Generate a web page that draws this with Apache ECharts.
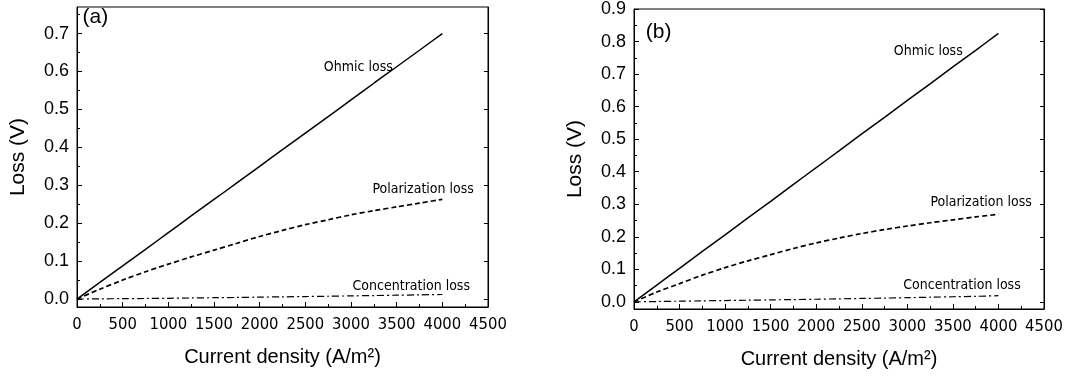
<!DOCTYPE html>
<html>
<head>
<meta charset="utf-8">
<script src="https://cdn.jsdelivr.net/npm/echarts@6/dist/echarts.min.js"></script>
<style>
html,body{margin:0;padding:0;background:#fff;}
#chart{width:1067px;height:376px;}
</style>
</head>
<body>
<div id="chart"></div>
<script>
// ---- data ----
const currentDensity = [0, 250, 500, 750, 1000, 1250, 1500, 1750, 2000, 2250, 2500, 2750, 3000, 3250, 3500, 3750, 4000];
const ohmicA = [0, 0.044, 0.0875, 0.131, 0.175, 0.219, 0.2625, 0.306, 0.35, 0.394, 0.4375, 0.481, 0.525, 0.569, 0.6125, 0.656, 0.70];
const polarA = [0, 0.026, 0.05, 0.072, 0.092, 0.111, 0.129, 0.147, 0.165, 0.181, 0.196, 0.209, 0.222, 0.233, 0.243, 0.253, 0.263];
const concA  = [0, 0.0005, 0.001, 0.0015, 0.002, 0.0028, 0.0035, 0.0042, 0.005, 0.0058, 0.0066, 0.0074, 0.0083, 0.0092, 0.0101, 0.011, 0.012];
const ohmicB = [0, 0.0516, 0.103, 0.155, 0.206, 0.258, 0.309, 0.361, 0.4125, 0.464, 0.516, 0.567, 0.619, 0.670, 0.722, 0.773, 0.825];
const polarB = [0, 0.03, 0.056, 0.082, 0.105, 0.126, 0.145, 0.164, 0.181, 0.196, 0.21, 0.222, 0.233, 0.243, 0.252, 0.261, 0.269];
const concB  = [0, 0.001, 0.002, 0.003, 0.004, 0.005, 0.006, 0.007, 0.008, 0.0092, 0.0104, 0.0116, 0.0128, 0.0142, 0.0156, 0.017, 0.019];
const yTicksA = [0, 0.1, 0.2, 0.3, 0.4, 0.5, 0.6, 0.7];
const yMinorA = [0.05, 0.15, 0.25, 0.35, 0.45, 0.55, 0.65, 0.75];
const yTicksB = [0, 0.1, 0.2, 0.3, 0.4, 0.5, 0.6, 0.7, 0.8, 0.9];
const yMinorB = [0.05, 0.15, 0.25, 0.35, 0.45, 0.55, 0.65, 0.75, 0.85];
const seriesNames = ['Ohmic loss', 'Polarization loss', 'Concentration loss'];
const panelLabels = ['(a)', '(b)'];
const xTitle = 'Current density (A/m\u00B2)';
const yTitle = 'Loss (V)';

// ---- styling / layout ----
const ink = '#000';
const numFont = 'Liberation Sans Narrow, DejaVu Sans Condensed, Liberation Sans, Arial, sans-serif';
const sansFont = 'Liberation Sans, Arial, sans-serif';
const grids = [
  {left: 77, top: 7, width: 411, height: 300},
  {left: 634, top: 9, width: 410, height: 300}
];
const yRanges = [{min: -0.021, max: 0.77}, {min: -0.022, max: 0.9}];
const annot = [
  [{x: 3080, y: 0.61}, {x: 3790, y: 0.288}, {x: 3660, y: 0.034}, {x: 60, y: 0.742}],
  [{x: 3230, y: 0.77}, {x: 3810, y: 0.305}, {x: 3600, y: 0.052}, {x: 130, y: 0.83}]
];

function zip(xs, ys){ return xs.map((x,i)=>[x, ys[i]]); }

const xAxes = [], yAxes = [], series = [];
[0,1].forEach(g => {
  xAxes.push({
    gridIndex: g, type: 'value', min: 0, max: 4500, interval: 500,
    name: xTitle, nameLocation: 'middle', nameGap: 40,
    nameTextStyle: {fontFamily: sansFont, fontSize: 20, color: ink},
    axisLine: {show: true, onZero: false, lineStyle: {color: ink, width: 1}},
    axisTick: {show: true, inside: true, length: 5, lineStyle: {color: ink}},
    minorTick: {show: true, splitNumber: 2, length: 3, lineStyle: {color: ink}},
    axisLabel: {fontFamily: numFont, fontSize: 16.5, color: ink, margin: 9, showMinLabel: true, showMaxLabel: true,
      formatter: v => String(v)},
    splitLine: {show: false}
  });
  const ticks = g === 0 ? yTicksA : yTicksB;
  const minors = g === 0 ? yMinorA : yMinorB;
  const r = yRanges[g];
  yAxes.push({
    gridIndex: g, type: 'value', position: 'left', min: r.min, max: r.max,
    name: yTitle, nameLocation: 'middle', nameGap: 48, nameRotate: 90,
    nameTextStyle: {fontFamily: sansFont, fontSize: 21, color: ink},
    axisLine: {show: true, onZero: false, lineStyle: {color: ink, width: 1}},
    axisTick: {show: true, inside: true, length: 5, customValues: ticks, lineStyle: {color: ink}},
    axisLabel: {fontFamily: sansFont, fontSize: 18, color: ink, margin: 8, customValues: ticks,
      formatter: v => v.toFixed(1)},
    splitLine: {show: false}
  });
  yAxes.push({
    gridIndex: g, type: 'value', position: 'left', min: r.min, max: r.max,
    axisLine: {show: false},
    axisTick: {show: true, inside: true, length: 3, customValues: minors, lineStyle: {color: ink}},
    axisLabel: {show: false},
    splitLine: {show: false}
  });
  yAxes.push({
    gridIndex: g, type: 'value', position: 'right', min: r.min, max: r.max,
    axisLine: {show: true, onZero: false, lineStyle: {color: ink, width: 1}},
    axisTick: {show: true, inside: true, length: 4, customValues: ticks, lineStyle: {color: ink}},
    axisLabel: {show: false},
    splitLine: {show: false}
  });
});

const dataSets = [[ohmicA, polarA, concA], [ohmicB, polarB, concB]];
const lineTypes = ['solid', [5, 3], [7, 3, 2, 3]];
const lineWidths = [1.5, 1.7, 1.2];
[0,1].forEach(g => {
  dataSets[g].forEach((vals, k) => {
    const a = annot[g][k];
    series.push({
      name: seriesNames[k], type: 'line', xAxisIndex: g, yAxisIndex: g*3,
      data: zip(currentDensity, vals), showSymbol: false, symbol: 'none', smooth: 0.3,
      lineStyle: {color: ink, width: lineWidths[k], type: lineTypes[k]},
      silent: true, animation: false,
      markPoint: {
        symbol: 'circle', symbolSize: 0, silent: true, animation: false,
        data: [{coord: [a.x, a.y], value: seriesNames[k]}],
        label: {show: true, position: 'inside', formatter: seriesNames[k],
          fontFamily: numFont, fontSize: 14, color: ink}
      }
    });
  });
  const p = annot[g][3];
  series.push({
    type: 'scatter', xAxisIndex: g, yAxisIndex: g*3, symbolSize: 0, silent: true, animation: false,
    data: [[p.x, p.y]],
    itemStyle: {opacity: 1},
    label: {show: true, position: 'right', distance: 0, formatter: panelLabels[g],
      fontFamily: sansFont, fontSize: 21, color: ink}
  });
});

const chart = echarts.init(document.getElementById('chart'), null, {renderer: 'canvas'});
chart.setOption({
  backgroundColor: '#fff',
  animation: false,
  grid: grids.map(gr => Object.assign({show: true, borderColor: ink, borderWidth: 1, backgroundColor: 'transparent'}, gr)),
  xAxis: xAxes,
  yAxis: yAxes,
  series: series
});
</script>
</body>
</html>
